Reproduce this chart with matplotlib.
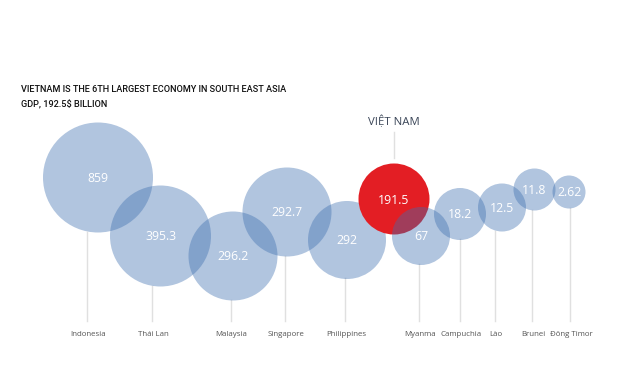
import matplotlib
matplotlib.use("Agg")
import matplotlib.pyplot as plt
from matplotlib.patches import Circle

# ---- data ----
countries = ["Indonesia", "Thái Lan", "Malaysia", "Singapore", "Philippines",
             "VIỆT NAM", "Myanma", "Campuchia", "Lào", "Brunei", "Đông Timor"]
gdp_values = ["859", "395.3", "296.2", "292.7", "292", "191.5", "67", "18.2", "12.5", "11.8", "2.62"]
bubble_x = [98, 160.5, 233, 287, 347, 394, 421, 460, 502, 534.5, 569]
bubble_y = [177.5, 236, 256, 212, 240, 199, 236, 214, 207.5, 189.5, 192]
bubble_r = [55, 50.5, 44.5, 44.5, 39, 35.5, 29, 26, 24, 21, 16.5]
label_x = [87, 152, 230.5, 285, 345, None, 419, 460, 495, 532, 570]
highlight = "VIỆT NAM"
title_lines = ["VIETNAM IS THE 6TH LARGEST ECONOMY IN SOUTH EAST ASIA", "GDP, 192.5$ BILLION"]

W, H = 637, 375
fig = plt.figure(figsize=(W / 100, H / 100), dpi=100)
ax = fig.add_axes([0, 0, 1, 1])
ax.set_xlim(0, W)
ax.set_ylim(H, 0)
ax.set_aspect("equal")
ax.axis("off")

blue = (60 / 255, 110 / 255, 175 / 255)
red = "#e31e24"
stem_color = "#e0e0e0"
stem_bottom = 321

# stems
for c, x, y, r, lx in zip(countries, bubble_x, bubble_y, bubble_r, label_x):
    if c == highlight:
        ax.plot([x, x], [132, y - r - 6], color=stem_color, lw=1.0, zorder=1)
        ax.text(x, 122, c, ha="center", va="center", fontsize=8.2,
                family="Open Sans", color="#3b4658", zorder=5)
    else:
        ax.plot([lx, lx], [y + r - 1, stem_bottom], color=stem_color, lw=1.0, zorder=1)
        ax.text(lx + 1, 335, c, ha="center", va="center", fontsize=5.7,
                family="Open Sans", color="#555555", zorder=5)

# bubbles
for i, (c, v, x, y, r) in enumerate(zip(countries, gdp_values, bubble_x, bubble_y, bubble_r)):
    if c == highlight:
        circ = Circle((x, y), r, facecolor=red, edgecolor="none", alpha=1.0, zorder=2 + i * 0.01)
    else:
        circ = Circle((x, y), r, facecolor=blue, edgecolor="none", alpha=0.4, zorder=2 + i * 0.01)
    ax.add_patch(circ)
    ax.text(x, y + 1, v, ha="center", va="center", fontsize=8.8,
            family="Open Sans", color="white", zorder=4)

ax.text(21, 90, title_lines[0], ha="left", va="center", fontsize=6.6,
        family="Roboto", weight="medium", color="#111111")
ax.text(21, 105, title_lines[1], ha="left", va="center", fontsize=6.6,
        family="Roboto", weight="medium", color="#111111")

fig.savefig("out.png", dpi=100, facecolor="white")
